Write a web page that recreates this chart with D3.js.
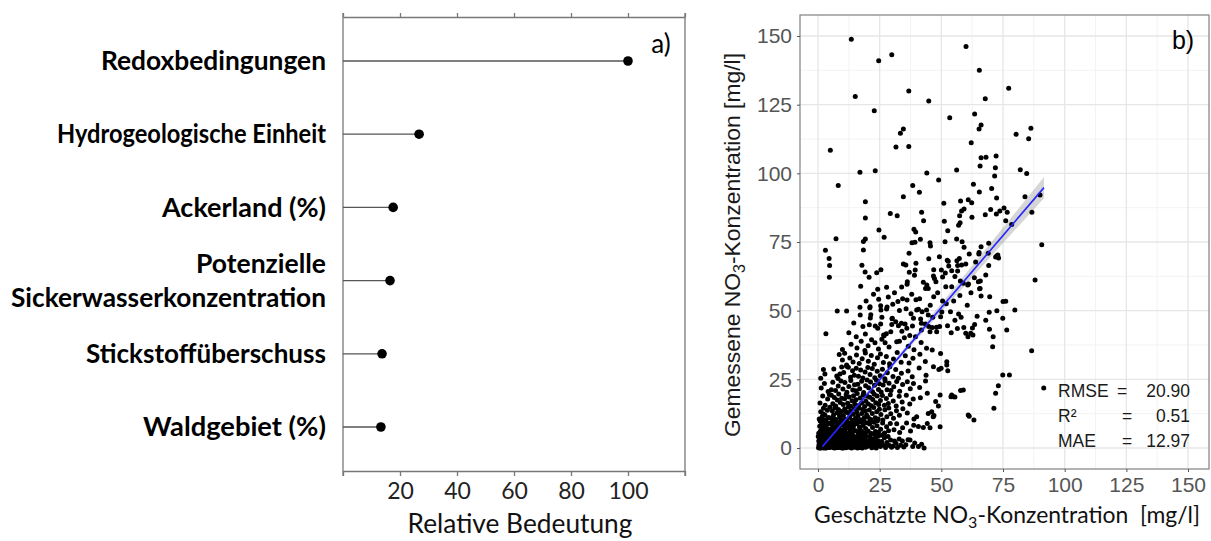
<!DOCTYPE html>
<html><head><meta charset="utf-8">
<script src="https://cdn.jsdelivr.net/npm/d3@7"></script>
<style>body{margin:0;background:#fff;} svg{display:block}</style>
</head><body>
<svg id="chart" width="1211" height="541"></svg>
<script>
// ---------- Panel a) data ----------
const features = ["Redoxbedingungen","Hydrogeologische Einheit","Ackerland (%)","Potenzielle Sickerwasserkonzentration","Stickstoffüberschuss","Waldgebiet (%)"];
const featureLines = [["Redoxbedingungen"],["Hydrogeologische Einheit"],["Ackerland (%)"],["Potenzielle","Sickerwasserkonzentration"],["Stickstoffüberschuss"],["Waldgebiet (%)"]];
const importance = [100, 26.7, 17.6, 16.5, 13.7, 13.3];
const importanceTicks = [20, 40, 60, 80, 100];
const importanceFrame = [0, 20, 40, 60, 80, 100, 120];

// ---------- Panel b) data ----------
const concTicks = [0, 25, 50, 75, 100, 125, 150];
const concMinor = [12.5, 37.5, 62.5, 87.5, 112.5, 137.5];
// [geschätzt, gemessen]
const points = [
[0.2,0.1],[0.5,0.8],[0.8,0.3],[1.0,1.5],[1.2,0.0],[1.4,2.2],[1.6,0.6],[1.8,3.1],[2.0,1.1],[2.1,0.2],[2.3,4.0],[2.5,1.8],[2.6,0.5],[2.8,2.7],[3.0,0.1],[3.1,3.6],[3.3,1.3],[3.5,0.4],[3.6,2.3],[3.8,4.4],[4.0,0.9],[4.1,1.9],[4.3,3.2],[4.5,0.2],[4.6,2.8],[4.8,1.4],[4.9,4.1],[0.3,2.5],[0.6,3.8],[0.9,4.6],[1.3,3.3],[1.7,4.8],[2.2,2.9],[2.7,3.9],[3.2,2.0],[3.7,0.7],[4.2,2.4],[4.4,4.7],[0.4,1.2],[1.1,2.8],[1.9,0.9],[2.4,0.0],[2.9,1.6],[3.4,4.9],[3.9,3.4],[4.7,0.5],[0.1,4.2],[0.7,0.0],[1.5,1.0],[2.0,3.5],[2.6,4.4],[3.3,0.0],[3.9,1.7],[4.4,3.8],[4.9,2.2],[1.2,4.0],[2.8,0.8],[3.6,1.1],[4.1,4.5],[0.9,1.9],
[5.1,0.3],[5.3,1.8],[5.5,3.4],[5.7,0.9],[5.9,4.6],[6.1,2.2],[6.3,0.1],[6.5,3.0],[6.7,1.3],[6.9,4.2],[7.1,0.6],[7.3,2.6],[7.5,3.9],[7.7,1.0],[7.9,0.2],[8.1,2.0],[8.3,4.5],[8.5,1.5],[8.7,3.2],[8.9,0.4],[9.1,2.7],[9.3,4.0],[9.5,1.1],[9.7,0.0],[9.9,3.5],[5.2,2.6],[5.8,1.4],[6.2,4.1],[6.8,0.0],[7.2,4.8],[7.8,2.9],[8.2,0.8],[8.8,1.9],[9.2,4.6],[9.8,2.2],[5.4,4.9],[6.0,0.6],[6.6,2.5],[7.4,1.6],[8.0,3.6],[8.6,0.2],[9.4,3.0],[6.4,3.7],[7.6,0.3],[9.0,1.2],
[10.1,0.5],[10.3,2.4],[10.6,4.1],[10.9,1.2],[11.2,3.3],[11.4,0.1],[11.7,2.0],[12.0,4.4],[12.2,0.8],[12.5,3.0],[12.8,1.6],[13.0,0.2],[13.3,3.8],[13.5,2.3],[13.8,0.9],[14.0,4.7],[14.3,1.8],[14.6,0.3],[14.8,3.2],[10.5,1.4],[11.0,4.8],[11.5,2.8],[12.3,1.9],[12.9,4.0],[13.6,0.0],[14.1,2.6],[14.7,4.2],[10.8,3.5],[11.8,0.6],[12.6,2.5],[13.2,1.1],[13.9,3.4],[14.4,0.7],[10.2,0.0],[11.3,1.5],
[15.2,0.4],[15.5,2.2],[15.8,4.0],[16.1,1.1],[16.4,3.1],[16.7,0.2],[17.0,2.5],[17.3,4.6],[17.6,1.4],[17.9,0.0],[18.2,3.5],[18.5,1.9],[18.8,0.6],[19.1,2.8],[19.4,4.2],[19.7,1.0],[15.3,3.6],[16.0,0.0],[16.6,1.8],[17.4,0.8],[18.0,2.0],[18.7,4.8],[19.3,0.3],[19.9,2.4],[16.9,4.1],
[20.2,0.6],[20.6,2.7],[21.0,4.3],[21.4,1.2],[21.8,0.1],[22.2,3.0],[22.6,1.7],[23.0,0.4],[23.4,3.8],[23.8,2.2],[24.2,0.8],[24.6,4.5],[20.9,1.9],[21.6,3.4],[22.9,4.9],[23.6,0.0],[24.4,2.6],[24.9,1.0],
[25.3,0.5],[25.8,2.4],[26.3,1.1],[26.9,3.7],[27.4,0.2],[27.9,2.0],[28.4,4.2],[28.9,0.9],[29.4,2.9],[29.8,0.3],[26.0,4.6],[28.1,1.3],
[30.4,0.7],[31.0,2.5],[31.6,1.7],[32.2,0.2],[32.9,3.3],[33.5,1.0],[34.2,2.5],[34.8,0.4],
[35.6,1.2],[36.5,3.0],[37.3,2.9],[38.4,0.5],[39.2,1.8],[40.7,0.5],[42.0,1.4],[43.0,0.0],
[0.3,5.4],[0.7,7.9],[1.0,6.2],[1.4,9.3],[1.8,5.8],[2.1,8.4],[2.5,6.9],[2.9,5.2],[3.2,9.6],[3.5,7.3],[3.9,5.9],[4.2,8.8],[4.6,6.5],[4.9,9.1],[0.9,9.8],[1.6,7.0],[2.7,8.0],[3.7,6.1],[4.4,5.3],[2.3,9.9],
[5.2,6.0],[5.6,8.6],[6.0,5.4],[6.4,7.5],[6.8,9.4],[7.2,6.3],[7.6,8.1],[8.0,5.7],[8.4,9.0],[8.8,6.8],[9.2,5.1],[9.6,8.4],[5.9,9.9],[6.6,6.0],[7.4,7.2],[8.2,7.8],[9.0,9.7],[9.8,6.5],[7.9,5.0],[5.4,7.1],
[10.2,5.8],[10.6,8.2],[11.0,6.6],[11.4,9.5],[11.8,5.3],[12.2,7.4],[12.6,9.0],[13.0,6.1],[13.4,8.5],[13.8,5.5],[14.2,7.0],[14.6,9.3],[10.9,7.6],[11.6,9.9],[12.8,5.0],[13.6,6.9],[14.4,8.0],[12.0,8.7],
[15.3,6.3],[15.8,8.8],[16.3,5.5],[16.8,7.6],[17.3,9.5],[17.8,6.0],[18.3,8.2],[18.8,5.2],[19.3,7.1],[19.8,9.2],[16.0,9.9],[17.1,6.8],[18.6,9.6],[19.5,5.6],
[20.3,6.2],[20.9,8.7],[21.5,5.4],[22.1,7.5],[22.7,9.4],[23.3,6.0],[23.9,8.1],[24.5,5.7],[21.2,9.8],[24.1,9.9],
[25.4,6.8],[26.2,9.1],[27.0,5.5],[27.8,7.7],[28.6,6.3],[29.3,8.9],[26.6,5.0],
[30.8,6.6],[31.9,8.8],[33.1,5.6],[34.3,7.4],[35.9,9.1],[37.5,6.2],[38.8,8.3],[40.7,7.8],[42.7,7.5],[44.3,8.9],[45.4,7.4],[49.5,7.7],
[0.5,10.6],[1.1,13.2],[1.7,11.4],[2.2,14.5],[2.8,12.0],[3.3,10.3],[3.8,13.7],[4.3,11.1],[4.8,14.8],[2.0,12.5],
[5.3,10.9],[5.8,13.5],[6.3,12.0],[6.8,14.6],[7.3,10.4],[7.8,12.8],[8.3,14.0],[8.8,11.3],[9.3,13.3],[9.8,10.2],[6.1,11.0],[8.6,12.1],
[10.3,11.8],[10.8,14.2],[11.3,10.5],[11.8,12.9],[12.3,14.9],[12.8,11.2],[13.3,13.6],[13.8,10.1],[14.3,12.3],[14.8,14.4],[11.1,13.4],[13.0,12.0],
[15.2,10.8],[15.7,13.1],[16.2,11.7],[16.7,14.5],[17.2,10.3],[17.7,12.6],[18.2,14.0],[18.7,11.0],[19.2,13.5],[19.7,12.0],
[20.3,11.2],[20.8,13.8],[21.4,10.4],[22.0,12.6],[22.6,14.7],[23.2,11.0],[23.8,13.2],[24.4,10.6],[24.9,14.1],
[25.5,12.2],[26.3,10.2],[27.1,13.9],[27.9,11.4],[28.7,14.6],[29.5,12.5],
[30.6,10.8],[31.8,13.6],[33.0,11.9],[34.4,14.3],[36.2,12.7],[38.9,10.6],[40.0,11.4],[44.7,12.6],[46.1,13.2],[46.7,11.4],[47.0,11.8],
[61.3,11.6],[63.2,10.2],[60.9,12.0],[71.3,14.5],
[0.8,16.4],[1.9,18.9],[2.9,15.6],[3.9,17.8],[4.6,19.5],
[5.4,19.2],[6.0,16.1],[6.6,18.4],[7.2,15.3],[7.8,17.5],[8.4,19.7],[9.0,16.6],[9.6,18.1],
[10.2,15.8],[10.8,17.9],[11.4,19.4],[12.0,16.3],[12.6,18.6],[13.2,15.2],[13.8,17.2],[14.4,19.0],[14.9,16.0],
[15.4,17.6],[15.9,19.8],[16.5,15.5],[17.1,18.2],[17.7,16.4],[18.3,19.3],[18.9,15.1],[19.4,17.0],[19.9,18.8],
[20.4,16.0],[21.0,18.5],[21.6,15.4],[22.2,17.7],[22.8,19.6],[23.4,16.5],[24.0,18.9],[24.6,15.8],
[25.3,17.3],[26.1,19.1],[26.9,15.6],[27.7,18.0],[28.5,16.2],[29.3,19.4],
[30.5,17.1],[31.7,15.3],[32.9,18.8],[34.1,16.7],[35.8,19.2],[37.2,16.0],[38.6,17.8],[41.5,18.3],[44.3,19.9],[47.7,16.9],[48.8,15.3],
[49.5,19.3],[53.9,18.7],[54.9,18.7],[55.5,18.6],[54.2,19.3],[72.0,19.9],
[1.3,21.8],[2.6,23.5],[4.1,20.6],[5.4,21.2],[6.0,23.9],[7.1,20.9],[8.2,22.6],[9.3,24.4],
[10.1,21.5],[10.9,23.8],[11.7,20.3],[12.5,22.4],[13.3,24.6],[14.1,21.1],[14.8,23.0],
[15.3,20.8],[16.1,23.2],[16.9,21.6],[17.7,24.3],[18.5,20.2],[19.3,22.7],[19.9,24.8],
[20.5,21.9],[21.3,24.0],[22.1,20.5],[22.9,22.8],[23.7,24.7],[24.5,21.3],[24.9,23.4],
[25.6,20.4],[26.4,22.9],[27.2,24.5],[28.0,21.2],[28.8,23.6],[29.6,20.9],
[30.7,22.3],[31.9,24.2],[33.1,20.7],[34.3,23.1],[36.2,24.1],[37.4,21.6],[38.7,23.5],[41.2,22.0],[43.6,24.4],
[57.8,20.9],[58.9,21.1],[73.1,22.7],[91.5,21.8],
[1.1,25.4],[2.8,26.9],[2.2,28.6],[7.6,26.2],[8.1,25.3],[8.9,26.9],[6.4,28.8],[9.6,29.5],
[10.4,27.5],[11.6,29.8],[12.3,29.4],[13.2,25.8],[14.0,28.1],[14.7,26.5],
[15.5,29.0],[16.4,26.1],[17.3,28.4],[18.2,25.5],[19.1,27.7],
[20.2,29.3],[21.1,26.8],[22.0,28.9],[23.0,25.6],[24.0,27.9],
[25.2,26.3],[26.1,28.7],[27.1,25.2],[28.1,27.4],[29.1,29.6],
[30.4,26.0],[31.5,28.6],[32.6,25.4],[33.8,27.2],[36.5,28.0],[38.2,25.9],[41.0,29.1],[43.8,26.5],
[46.8,29.6],[49.0,28.6],[49.9,29.0],[52.6,28.1],[74.9,26.6],[77.6,26.6],
[9.9,32.0],[8.6,34.0],[10.8,34.5],[11.6,30.2],[12.9,32.8],[14.2,31.3],
[15.6,33.9],[16.7,30.8],[17.9,32.5],[19.2,34.6],[20.4,31.6],[21.6,33.7],[22.8,30.5],[24.1,32.9],
[25.3,34.2],[26.5,31.1],[27.7,33.3],[29.0,30.7],[30.6,32.4],[32.1,34.8],[33.7,31.2],
[35.4,33.6],[36.9,30.9],[38.5,32.7],[41.3,34.1],[43.5,31.5],[52.2,31.4],[52.2,30.2],[49.7,34.4],
[9.9,35.9],[13.4,37.8],[15.8,36.4],[17.5,38.9],[19.0,35.5],[20.3,37.2],[21.7,39.4],[23.1,38.3],[24.5,36.0],
[25.9,39.6],[27.2,38.3],[28.8,36.8],[31.9,38.7],[33.0,38.9],[35.0,40.1],[36.6,37.0],[38.9,35.8],[41.8,38.4],[44.0,36.3],
[46.3,35.7],[70.8,36.9],[86.6,35.4],
[3.2,41.6],[7.8,49.9],[11.6,49.9],[17.0,51.2],[17.1,48.4],[21.0,51.1],[21.4,48.5],[21.2,47.3],[20.8,44.9],[18.2,44.2],[19.2,41.5],
[24.6,54.2],[25.4,51.8],[25.5,50.2],[25.9,47.6],[28.0,51.3],[30.0,47.1],[26.6,41.1],[29.5,42.3],[32.4,53.3],[33.0,50.1],
[34.3,54.3],[36.1,53.9],[35.7,50.7],[33.8,45.4],[35.3,45.1],[36.0,43.6],[38.3,44.4],[37.7,48.9],[38.7,47.2],[39.7,54.0],
[41.2,54.3],[40.0,50.2],[40.7,50.5],[42.2,49.6],[41.6,47.0],[41.9,45.4],[43.5,45.1],[41.9,43.0],[44.0,50.2],[44.7,48.4],
[46.9,55.1],[46.5,47.6],[44.9,44.2],[45.4,42.3],[46.3,43.9],[48.1,42.3],[49.3,44.2],[49.7,47.8],[50.2,49.5],[53.7,49.6],
[57.0,48.8],[58.0,47.6],[59.1,43.9],[59.9,41.8],[60.8,40.5],[61.9,41.8],[62.8,41.1],[62.6,43.7],[66.1,55.3],[69.4,49.4],
[69.5,43.2],[75.0,53.3],[76.1,53.4],[74.9,47.2],[79.8,50.2],
[24.2,57.8],[27.8,58.5],[17.3,58.9],[33.9,58.6],[36.2,60.5],[36.1,59.6],[42.7,60.3],[44.1,59.3],[43.6,58.1],[44.7,58.1],
[47.8,60.5],[51.8,58.7],[54.2,58.7],[57.7,60.8],[60.7,59.3],[58.9,60.0],[61.0,59.7],[65.5,58.0],[65.8,60.8],[65.0,60.5],
[65.7,58.1],[69.6,55.1],[23.2,44.4],[24.2,43.6],[25.4,45.1],[26.8,40.9],[27.7,41.6],[30.1,47.2],[29.9,45.0],[30.3,52.3],
[27.8,50.6],[21.1,51.4],
[31.5,46.0],[32.6,44.5],[34.0,42.5],[37.2,41.0],[39.5,40.5],[48.0,44.0],[52.5,44.5],[54.0,42.0],[55.5,46.5],[56.5,43.5],
[63.5,45.0],[64.5,48.0],[68.0,46.5],[71.0,40.5],[72.5,50.0],[76.5,43.0],[52.0,52.5],[55.0,53.5],[57.5,55.5],[60.5,52.0],
[62.0,56.5],[48.5,56.5],[50.5,53.5],[45.5,52.0],[38.0,56.0],[31.0,56.5],[28.5,55.0],[22.5,56.0],[19.5,53.5],[14.5,45.5],
[12.5,42.0],[15.5,40.5],
[3.0,72.0],[4.5,69.0],[4.7,66.4],[4.6,62.2],[18.4,72.1],[17.8,66.5],[19.1,64.1],[20.7,62.2],[23.8,63.8],[25.5,64.9],
[38.1,74.7],[39.3,74.9],[36.9,70.9],[34.6,67.0],[35.6,66.6],[39.7,67.3],[39.4,64.8],[37.0,64.0],[45.4,74.7],[45.6,73.5],
[44.9,68.9],[46.9,64.9],[46.8,62.6],[49.2,69.6],[51.5,75.1],[50.0,64.8],[51.6,63.7],[52.4,68.4],[53.0,66.3],[55.5,62.4],
[56.3,68.2],[56.6,66.4],[56.6,64.4],[58.4,75.1],[59.2,73.1],[61.3,70.6],[59.9,67.0],[63.9,67.7],[63.4,62.0],[65.2,70.6],
[66.1,73.3],[68.0,63.0],[69.0,70.9],[69.2,74.5],[69.2,66.4],[72.0,69.5],[72.9,70.3],[90.7,74.0],[88.0,61.2],[39.1,62.9],
[47.2,61.7],[50.5,62.3],[52.8,68.0],[54.2,64.5],[57.3,69.0],[58.2,66.6],[65.3,71.2],[72.6,70.0],[73.2,69.2],
[7.3,76.2],[19.2,76.1],[41.5,76.0],[56.2,76.1],[18.4,75.2],[24.7,79.4],[26.8,76.7],[38.9,79.6],[39.6,78.6],[52.6,79.1],
[57.0,81.1],[57.6,82.0],[19.2,83.7],[29.3,85.4],[32.1,84.6],[42.0,85.8],[42.8,82.7],[51.2,82.6],[57.4,84.6],[58.2,86.3],
[59.2,87.0],[62.4,84.0],[67.8,84.9],[70.0,86.8],[72.3,85.2],[73.7,86.3],[75.4,87.4],[76.7,85.8],[76.1,82.7],[78.5,81.4],
[86.7,85.8],[19.2,89.7],[51.0,89.1],[57.8,89.9],[60.9,90.4],[62.3,89.3],[83.9,91.5],[90.0,92.1],[34.6,91.5],[72.4,91.0],
[8.2,95.6],[38.4,95.6],[41.1,93.1],[48.9,97.6],[63.0,96.0],[65.4,93.2],[70.4,94.5],
[17.0,100.4],[23.2,100.9],[44.1,100.1],[56.2,101.2],[65.7,102.7],[71.9,102.0],[71.6,99.0],[82.0,101.3],[84.6,99.9],[66.1,105.7],
[68.1,105.9],[72.2,106.3],[5.0,108.4],[31.6,109.6],[36.8,109.8],[62.1,111.1],[85.4,112.6],[33.4,114.6],[34.6,116.1],[65.3,116.1],
[66.1,117.6],[86.3,116.4],[80.3,114.2],[53.4,120.2],[63.5,121.6],[22.8,122.8],[15.1,128.0],[36.8,130.0],[44.9,126.3],[67.8,127.2],
[77.3,131.0],[65.4,137.5],[24.6,141.0],[29.9,143.2],[60.0,146.2],[13.5,148.8]
];
// fitted regression line and confidence band
const fitX = [1.8, 91.6];
const fitY = [0.5, 94.8];
const bandX = [1.8, 10, 20, 35, 50, 65, 80, 91.6];
const bandHalf = [1.8, 1.2, 0.9, 1.0, 1.5, 2.2, 3.1, 3.9];
const statLabels = ["RMSE", "R²", "MAE"];
const statValues = ["20.90", "0.51", "12.97"];

// layout: rendered widths of the feature labels in the reference (px)
const labelWidths = {"Redoxbedingungen":225, "Hydrogeologische Einheit":269, "Ackerland (%)":164,
  "Potenzielle":130, "Sickerwasserkonzentration":315, "Stickstoffüberschuss":240, "Waldgebiet (%)":183};

const svg = d3.select("#chart");
const SANS = "Lato, 'Open Sans', sans-serif";
const ARIAL = "'Liberation Sans', Arial, sans-serif";

function fitWidth(sel, target) {
  const n = sel.node(); const fs = parseFloat(sel.attr("font-size"));
  const w = n.getComputedTextLength();
  sel.attr("font-size", (fs * target / w).toFixed(2));
}

// ================= Panel a =================
const xL = d3.scaleLinear().domain([0, 120]).range([343, 685]);
const yL = d3.scalePoint().domain(features).range([61, 427]);
const gA = svg.append("g");
const frameTop = 13, axTop = 17, axBot = 471, frameBot = 476;
const frameCol = "#777";

gA.append("g").attr("transform", `translate(0,${axTop})`)
  .call(d3.axisTop(xL).tickValues(importanceFrame).tickSize(axTop - frameTop).tickSizeOuter(0).tickFormat(""))
  .call(g => { g.selectAll("path,line").attr("stroke", frameCol).attr("stroke-width", 1.3); });
gA.append("g").attr("transform", `translate(0,${axBot})`)
  .call(d3.axisBottom(xL).tickValues(importanceFrame).tickSize(frameBot - axBot).tickSizeOuter(0)
        .tickFormat(d => importanceTicks.includes(d) ? d : ""))
  .call(g => {
    g.selectAll("path,line").attr("stroke", frameCol).attr("stroke-width", 1.3);
    g.selectAll("text").attr("dy", null).attr("y", 28).attr("font-size", 23)
      .attr("font-family", SANS).attr("fill", "#222");
  });
[0, 120].forEach(v => gA.append("line").attr("x1", xL(v)).attr("x2", xL(v))
  .attr("y1", frameTop).attr("y2", frameBot).attr("stroke", frameCol).attr("stroke-width", 1.3));

gA.selectAll(".stem").data(features).join("line")
  .attr("x1", xL(0)).attr("x2", (d, i) => xL(importance[i]))
  .attr("y1", d => yL(d)).attr("y2", d => yL(d))
  .attr("stroke", "#555").attr("stroke-width", 1.3);
gA.selectAll(".dot").data(features).join("circle")
  .attr("cx", (d, i) => xL(importance[i])).attr("cy", d => yL(d)).attr("r", 4.8).attr("fill", "#000");

// labels
const labelG = gA.append("g");
const labels = [];
features.forEach((f, i) => {
  const lines = featureLines[i];
  lines.forEach((ln, j) => {
    const off = (j - (lines.length - 1) / 2) * 34;
    const t = labelG.append("text").attr("x", 326).attr("y", yL(f) + off)
      .attr("dy", "0.35em").attr("text-anchor", "end")
      .attr("font-family", SANS).attr("font-weight", "bold").attr("font-size", 24)
      .attr("fill", "#000").text(ln);
    labels.push(t);
  });
});
{
  const longest = labels.find(t => t.text() === "Sickerwasserkonzentration");
  const w = longest.node().getComputedTextLength();
  const fs = 24 * 315 / w;
  labels.forEach(t => {
    t.attr("font-size", fs.toFixed(2));
    const target = labelWidths[t.text()];
    if (target) t.attr("textLength", target).attr("lengthAdjust", "spacingAndGlyphs");
  });
}
gA.append("text").attr("x", 661).attr("y", 44).attr("dy", "0.35em").attr("text-anchor", "middle")
  .attr("font-family", SANS).attr("font-size", 26).attr("fill", "#000").text("a)");
const titleA = gA.append("text").attr("x", 520).attr("y", 533).attr("text-anchor", "middle")
  .attr("font-family", SANS).attr("font-size", 22).attr("fill", "#111").text("Relative Bedeutung");
fitWidth(titleA, 225);

// ================= Panel b =================
const xR = d3.scaleLinear().domain([-7.3, 158.5]).range([800, 1209]);
const yR = d3.scaleLinear().domain([-7.65, 157.65]).range([469, 15]);
const gB = svg.append("g");
gB.selectAll(".vmin").data(concMinor).join("line")
  .attr("x1", d => xR(d)).attr("x2", d => xR(d)).attr("y1", yR.range()[0]).attr("y2", yR.range()[1])
  .attr("stroke", "#f3f3f3").attr("stroke-width", 1);
gB.selectAll(".hmin").data(concMinor).join("line")
  .attr("y1", d => yR(d)).attr("y2", d => yR(d)).attr("x1", xR.range()[0]).attr("x2", xR.range()[1])
  .attr("stroke", "#f3f3f3").attr("stroke-width", 1);
gB.selectAll(".vmaj").data(concTicks).join("line")
  .attr("x1", d => xR(d)).attr("x2", d => xR(d)).attr("y1", yR.range()[0]).attr("y2", yR.range()[1])
  .attr("stroke", "#e6e6e6").attr("stroke-width", 1.3);
gB.selectAll(".hmaj").data(concTicks).join("line")
  .attr("y1", d => yR(d)).attr("y2", d => yR(d)).attr("x1", xR.range()[0]).attr("x2", xR.range()[1])
  .attr("stroke", "#e6e6e6").attr("stroke-width", 1.3);

const lineAt = x => fitY[0] + (fitY[1] - fitY[0]) * (x - fitX[0]) / (fitX[1] - fitX[0]);
const bandArea = d3.area().x((d, i) => xR(bandX[i]))
  .y0((d, i) => yR(lineAt(bandX[i]) - bandHalf[i]))
  .y1((d, i) => yR(lineAt(bandX[i]) + bandHalf[i]));
gB.append("path").attr("d", bandArea(bandX)).attr("fill", "#999").attr("opacity", 0.4);

gB.selectAll(".pt").data(points).join("circle")
  .attr("cx", d => xR(d[0])).attr("cy", d => yR(d[1])).attr("r", 2.5).attr("fill", "#000");

gB.append("path").attr("d", d3.line().x((d, i) => xR(fitX[i])).y((d, i) => yR(fitY[i]))(fitX))
  .attr("stroke", "#2424ff").attr("stroke-width", 1.6).attr("fill", "none");

gB.append("rect").attr("x", 800).attr("y", 15).attr("width", 409).attr("height", 454)
  .attr("fill", "none").attr("stroke", "#808080").attr("stroke-width", 1.2);

gB.append("g").attr("transform", "translate(0,469)")
  .call(d3.axisBottom(xR).tickValues(concTicks).tickSize(3).tickSizeOuter(0))
  .call(g => {
    g.select(".domain").remove();
    g.selectAll("line").attr("stroke", "#555");
    g.selectAll("text").attr("dy", null).attr("y", 23).attr("font-size", 21)
      .attr("font-family", ARIAL).attr("fill", "#555");
  });
gB.append("g").attr("transform", "translate(800,0)")
  .call(d3.axisLeft(yR).tickValues(concTicks).tickSize(3).tickSizeOuter(0))
  .call(g => {
    g.select(".domain").remove();
    g.selectAll("line").attr("stroke", "#555");
    g.selectAll("text").attr("x", -8).attr("font-size", 21)
      .attr("font-family", ARIAL).attr("fill", "#555");
  });

const yTitle = gB.append("text").attr("transform", "translate(740,245) rotate(-90)")
  .attr("text-anchor", "middle").attr("font-family", ARIAL).attr("font-size", 22).attr("fill", "#1a1a1a");
yTitle.append("tspan").text("Gemessene NO");
yTitle.append("tspan").attr("font-size", "70%").attr("dy", 5).text("3");
yTitle.append("tspan").attr("dy", -5).text("-Konzentration [mg/l]");
fitWidth(yTitle, 384);

const xTitle = gB.append("text").attr("x", 1007).attr("y", 523)
  .attr("text-anchor", "middle").attr("font-family", SANS).attr("font-size", 22).attr("fill", "#111")
  .attr("xml:space", "preserve");
xTitle.append("tspan").text("Geschätzte NO");
xTitle.append("tspan").attr("font-size", "70%").attr("dy", 5).text("3");
xTitle.append("tspan").attr("dy", -5).text("-Konzentration  [mg/l]");
fitWidth(xTitle, 386);

gB.append("text").attr("x", 1183).attr("y", 40).attr("dy", "0.35em").attr("text-anchor", "middle")
  .attr("font-family", ARIAL).attr("font-size", 25).attr("fill", "#000").text("b)");

const statY = [397, 422, 447];
statLabels.forEach((s, i) => {
  gB.append("text").attr("x", 1058).attr("y", statY[i]).attr("font-family", ARIAL)
    .attr("font-size", 17.5).attr("fill", "#1a1a1a").text(s);
  gB.append("text").attr("x", i === 0 ? 1117 : 1122).attr("y", statY[i]).attr("font-family", ARIAL)
    .attr("font-size", 17.5).attr("fill", "#1a1a1a").text("=");
  gB.append("text").attr("x", 1190).attr("y", statY[i]).attr("text-anchor", "end").attr("font-family", ARIAL)
    .attr("font-size", 17.5).attr("fill", "#1a1a1a").text(statValues[i]);
});
</script>
</body></html>
